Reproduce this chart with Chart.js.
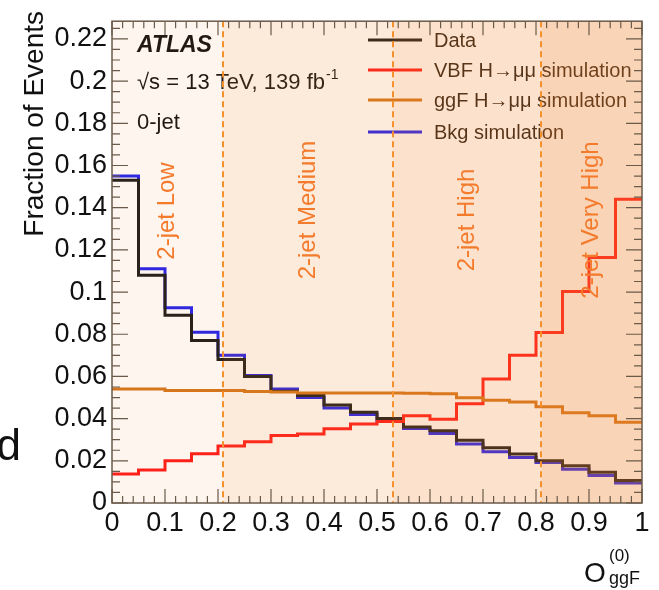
<!DOCTYPE html>
<html>
<head>
<meta charset="utf-8">
<script src="https://cdn.jsdelivr.net/npm/chart.js@4/dist/chart.umd.min.js"></script>
<style>
    html, body { margin: 0; padding: 0; background: #fff; }
    canvas { display: block; }
</style>
</head>
<body>
<canvas id="ogg-chart" width="659" height="590"></canvas>
<script>
// start: Data
const binEdges = [0, 0.05, 0.1, 0.15, 0.2, 0.25, 0.3, 0.35, 0.4, 0.45, 0.5, 0.55, 0.6, 0.65, 0.7, 0.75, 0.8, 0.85, 0.9, 0.95, 1]
const dataValues = [0.153, 0.108, 0.089, 0.077, 0.068, 0.060, 0.053, 0.051, 0.0465, 0.043, 0.040, 0.036, 0.0343, 0.0298, 0.0262, 0.0232, 0.020, 0.0177, 0.0146, 0.0107]
const vbfValues = [0.0138, 0.0157, 0.020, 0.0234, 0.027, 0.029, 0.032, 0.0327, 0.0352, 0.0375, 0.0386, 0.0414, 0.0397, 0.0471, 0.0588, 0.070, 0.0808, 0.1003, 0.1164, 0.144]
const ggfValues = [0.0541, 0.054, 0.0533, 0.0533, 0.0533, 0.0529, 0.0526, 0.0521, 0.0521, 0.0521, 0.0521, 0.052, 0.0518, 0.0499, 0.0487, 0.0479, 0.0456, 0.0428, 0.0414, 0.0383]
const bkgValues = [0.155, 0.111, 0.0926, 0.081, 0.070, 0.0605, 0.054, 0.050, 0.045, 0.042, 0.0386, 0.0353, 0.033, 0.028, 0.0243, 0.0216, 0.0192, 0.016, 0.013, 0.0095]

const xTickValues = [0, 0.1, 0.2, 0.3, 0.4, 0.5, 0.6, 0.7, 0.8, 0.9, 1]
const yTickValues = [0, 0.02, 0.04, 0.06, 0.08, 0.1, 0.12, 0.14, 0.16, 0.18, 0.2, 0.22]

const regionEdges = [0, 0.21, 0.53, 0.81, 1]
const regionNames = ['2-jet Low', '2-jet Medium', '2-jet High', '2-jet Very High']

const seriesNames = ['Data', 'VBF H\u2192\u03bc\u03bc simulation', 'ggF H\u2192\u03bc\u03bc simulation', 'Bkg simulation']
// end: Data

const FONT = '"Liberation Sans", Arial, Helvetica, sans-serif'
const seriesColors = ['#1a1a1a', '#ff1a1a', '#d4761c', '#2020f0']
const regionAlpha = [0.08, 0.17, 0.23, 0.34]
const labelY = [211, 210, 220, 220]

// histogram -> points for a stepped line (horizontal first)
function histPoints(values) {
    const pts = values.map((v, i) => ({ x: binEdges[i + 1], y: v }))
    pts.unshift({ x: binEdges[0], y: values[0] })
    return pts
}

function histDataset(label, values, color) {
    return {
        label: label,
        data: histPoints(values),
        stepped: 'after',
        borderColor: color,
        borderWidth: 3,
        pointRadius: 0,
        fill: false
    }
}

// start: Overlay plugin
const overlayPlugin = {
    id: 'overlay',
    afterDatasetsDraw(chart) {
        const ctx = chart.ctx
        const xs = chart.scales.x
        const ys = chart.scales.y
        const area = chart.chartArea

        // texts
        ctx.save()
        ctx.fillStyle = '#111'
        ctx.textBaseline = 'alphabetic'
        ctx.textAlign = 'left'
        ctx.font = 'italic bold 23px ' + FONT
        ctx.fillText('ATLAS', 137, 52)
        ctx.font = '22px ' + FONT
        const s = '\u221as = 13 TeV, 139 fb'
        ctx.fillText(s, 137, 89)
        const w = ctx.measureText(s).width
        ctx.font = '14px ' + FONT
        ctx.fillText('-1', 137 + w + 1, 79)
        ctx.font = '22px ' + FONT
        ctx.fillText('0-jet', 137, 129)

        // legend
        const legY = [40, 70, 100, 132]
        seriesNames.forEach((name, i) => {
            ctx.strokeStyle = seriesColors[i]
            ctx.lineWidth = 3
            ctx.beginPath()
            ctx.moveTo(368, legY[i])
            ctx.lineTo(422, legY[i])
            ctx.stroke()
            ctx.fillStyle = '#2a1e14'
            ctx.font = '20px ' + FONT
            ctx.textBaseline = 'middle'
            ctx.fillText(name, 434, legY[i] + 1)
        })
        ctx.restore()

        // shaded regions
        ctx.save()
        for (let i = 0; i < regionNames.length; i++) {
            const x0 = xs.getPixelForValue(regionEdges[i])
            const x1 = xs.getPixelForValue(regionEdges[i + 1])
            ctx.fillStyle = 'rgba(240, 130, 40, ' + regionAlpha[i] + ')'
            ctx.fillRect(x0, area.top, x1 - x0, area.bottom - area.top)
        }
        // dashed boundaries
        ctx.strokeStyle = '#f5902c'
        ctx.lineWidth = 2
        ctx.setLineDash([6, 4])
        for (let i = 1; i < regionEdges.length - 1; i++) {
            const x = Math.round(xs.getPixelForValue(regionEdges[i]))
            ctx.beginPath()
            ctx.moveTo(x, area.top)
            ctx.lineTo(x, area.bottom)
            ctx.stroke()
        }
        ctx.setLineDash([])
        // region labels
        ctx.fillStyle = '#f47a2c'
        ctx.font = '24px ' + FONT
        ctx.textAlign = 'center'
        ctx.textBaseline = 'middle'
        for (let i = 0; i < regionNames.length; i++) {
            const xm = xs.getPixelForValue((regionEdges[i] + regionEdges[i + 1]) / 2)
            ctx.save()
            ctx.translate(xm, labelY[i])
            ctx.rotate(-Math.PI / 2)
            ctx.fillText(regionNames[i], 0, 0)
            ctx.restore()
        }
        ctx.restore()

        // frame and inward ticks
        ctx.save()
        ctx.strokeStyle = '#6a5a4a'
        ctx.lineWidth = 1.5
        ctx.strokeRect(area.left, area.top, area.right - area.left, area.bottom - area.top)
        ctx.lineWidth = 1.2
        ctx.beginPath()
        for (let k = 0; k <= 50; k++) {
            const v = k * 0.02
            const x = xs.getPixelForValue(v)
            const len = k % 5 === 0 ? 14 : 7
            ctx.moveTo(x, area.bottom)
            ctx.lineTo(x, area.bottom - len)
            ctx.moveTo(x, area.top)
            ctx.lineTo(x, area.top + len)
        }
        for (let k = 0; k <= 45; k++) {
            const v = k * 0.005
            const y = ys.getPixelForValue(v)
            if (y < area.top) continue
            const len = k % 4 === 0 ? 16 : 8
            ctx.moveTo(area.left, y)
            ctx.lineTo(area.left + len, y)
            ctx.moveTo(area.right, y)
            ctx.lineTo(area.right - len, y)
        }
        ctx.stroke()
        ctx.restore()

        // axis titles
        ctx.save()
        ctx.fillStyle = '#111'
        ctx.font = '28px ' + FONT
        ctx.textAlign = 'right'
        ctx.textBaseline = 'middle'
        ctx.translate(35, 11)
        ctx.rotate(-Math.PI / 2)
        ctx.fillText('Fraction of Events', 0, 0)
        ctx.restore()

        ctx.save()
        ctx.fillStyle = '#111'
        ctx.textAlign = 'left'
        ctx.textBaseline = 'alphabetic'
        ctx.font = '28px ' + FONT
        ctx.fillText('O', 584, 582)
        ctx.font = '17px ' + FONT
        ctx.fillText('(0)', 609, 561)
        ctx.font = '18px ' + FONT
        ctx.fillText('ggF', 609, 584)
        // cropped neighbour glyph at the left edge
        ctx.font = '44px ' + FONT
        ctx.textAlign = 'right'
        ctx.fillText('d', 21, 460)
        ctx.restore()
    }
}
// end: Overlay plugin

// start: Chart
new Chart(document.getElementById('ogg-chart'), {
    type: 'line',
    data: {
        datasets: [
            histDataset(seriesNames[2], ggfValues, seriesColors[2]),
            histDataset(seriesNames[1], vbfValues, seriesColors[1]),
            histDataset(seriesNames[0], dataValues, seriesColors[0]),
            histDataset(seriesNames[3], bkgValues, seriesColors[3])
        ]
    },
    options: {
        responsive: false,
        animation: false,
        layout: { padding: { top: 12, right: 17, left: 0, bottom: 0 } },
        plugins: {
            legend: { display: false },
            tooltip: { enabled: false }
        },
        scales: {
            x: {
                type: 'linear',
                min: 0,
                max: 1,
                grid: { display: false, drawTicks: false },
                border: { display: false },
                afterFit(scale) { scale.height = 87 },
                afterBuildTicks(scale) { scale.ticks = xTickValues.map(v => ({ value: v })) },
                ticks: {
                    autoSkip: false,
                    maxRotation: 0,
                    padding: 4,
                    color: '#111',
                    font: { family: FONT, size: 27 },
                    callback: v => String(v)
                }
            },
            y: {
                min: 0,
                max: 0.2284,
                grid: { display: false, drawTicks: false },
                border: { display: false },
                afterFit(scale) { scale.width = 112 },
                afterBuildTicks(scale) { scale.ticks = yTickValues.map(v => ({ value: v })) },
                ticks: {
                    padding: 5,
                    color: '#111',
                    font: { family: FONT, size: 27 },
                    callback: v => String(v)
                }
            }
        }
    },
    plugins: [overlayPlugin]
});
// end: Chart
</script>
</body>
</html>
